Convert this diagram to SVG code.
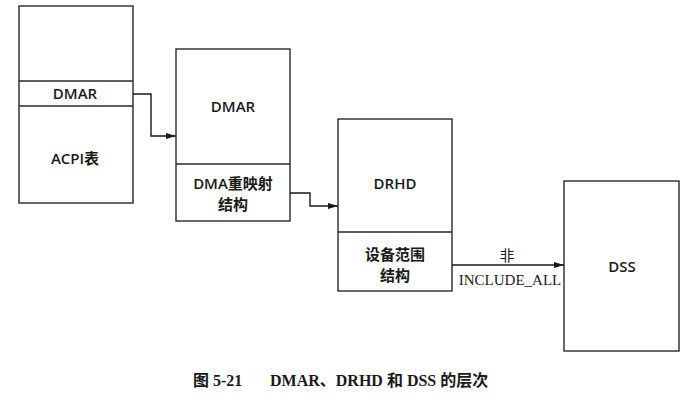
<svg xmlns="http://www.w3.org/2000/svg" width="690" height="411" viewBox="0 0 690 411">
<defs>
<style>
.box{fill:#fff;stroke:#2a2a2a;stroke-width:1.4}
.div{stroke:#2a2a2a;stroke-width:1.4}
.t{font-family:"Open Sans","Noto Sans CJK SC",sans-serif;font-size:15px;font-weight:600;fill:#1a1a1a;text-anchor:middle}
.c{fill:none;stroke:#1a1a1a;stroke-width:1.4}
.lbl{font-family:"Liberation Serif","Noto Sans CJK SC",serif;font-size:15px;fill:#1a1a1a;text-anchor:middle}
.cap{font-family:"Liberation Serif","Noto Sans CJK SC",serif;font-size:16px;font-weight:bold;fill:#1a1a1a}
</style>
<marker id="ah" viewBox="0 0 10 6" refX="10" refY="3" markerWidth="10" markerHeight="6" markerUnits="userSpaceOnUse" orient="auto">
<path d="M0,0 L10,3 L0,6 Z" fill="#1a1a1a"/>
</marker>
</defs>
<rect width="690" height="411" fill="#fff"/>
<g id="acpi">
<rect class="box" x="19" y="6" width="114" height="197"/>
<line class="div" x1="19" y1="81" x2="133" y2="81"/>
<line class="div" x1="19" y1="106" x2="133" y2="106"/>
<text class="t" x="75" y="99">DMAR</text>
<text class="t" x="75" y="164">ACPI表</text>
</g>
<g id="dmar">
<rect class="box" x="176" y="49" width="114" height="172"/>
<line class="div" x1="176" y1="164" x2="290" y2="164"/>
<text class="t" x="233" y="112">DMAR</text>
<text class="t" x="233" y="189">DMA重映射</text>
<text class="t" x="233" y="210">结构</text>
</g>
<g id="drhd">
<rect class="box" x="338" y="119" width="114" height="172"/>
<line class="div" x1="338" y1="232" x2="452" y2="232"/>
<text class="t" x="395" y="189">DRHD</text>
<text class="t" x="395" y="260">设备范围</text>
<text class="t" x="395" y="281">结构</text>
</g>
<g id="dss">
<rect class="box" x="564" y="181" width="115" height="170"/>
<text class="t" x="622" y="272">DSS</text>
</g>
<g id="connectors">
<path class="c" d="M133,94 H151 V136 H176" marker-end="url(#ah)"/>
<path class="c" d="M290,193 H310 V206 H338" marker-end="url(#ah)"/>
<path class="c" d="M452,265 H564" marker-end="url(#ah)"/>
<text class="lbl" x="507" y="261">非</text>
<text class="lbl" x="510" y="285">INCLUDE_ALL</text>
</g>
<text class="cap" x="193" y="386">图 5-21</text>
<text class="cap" x="270" y="386">DMAR、DRHD 和 DSS 的层次</text>
</svg>
